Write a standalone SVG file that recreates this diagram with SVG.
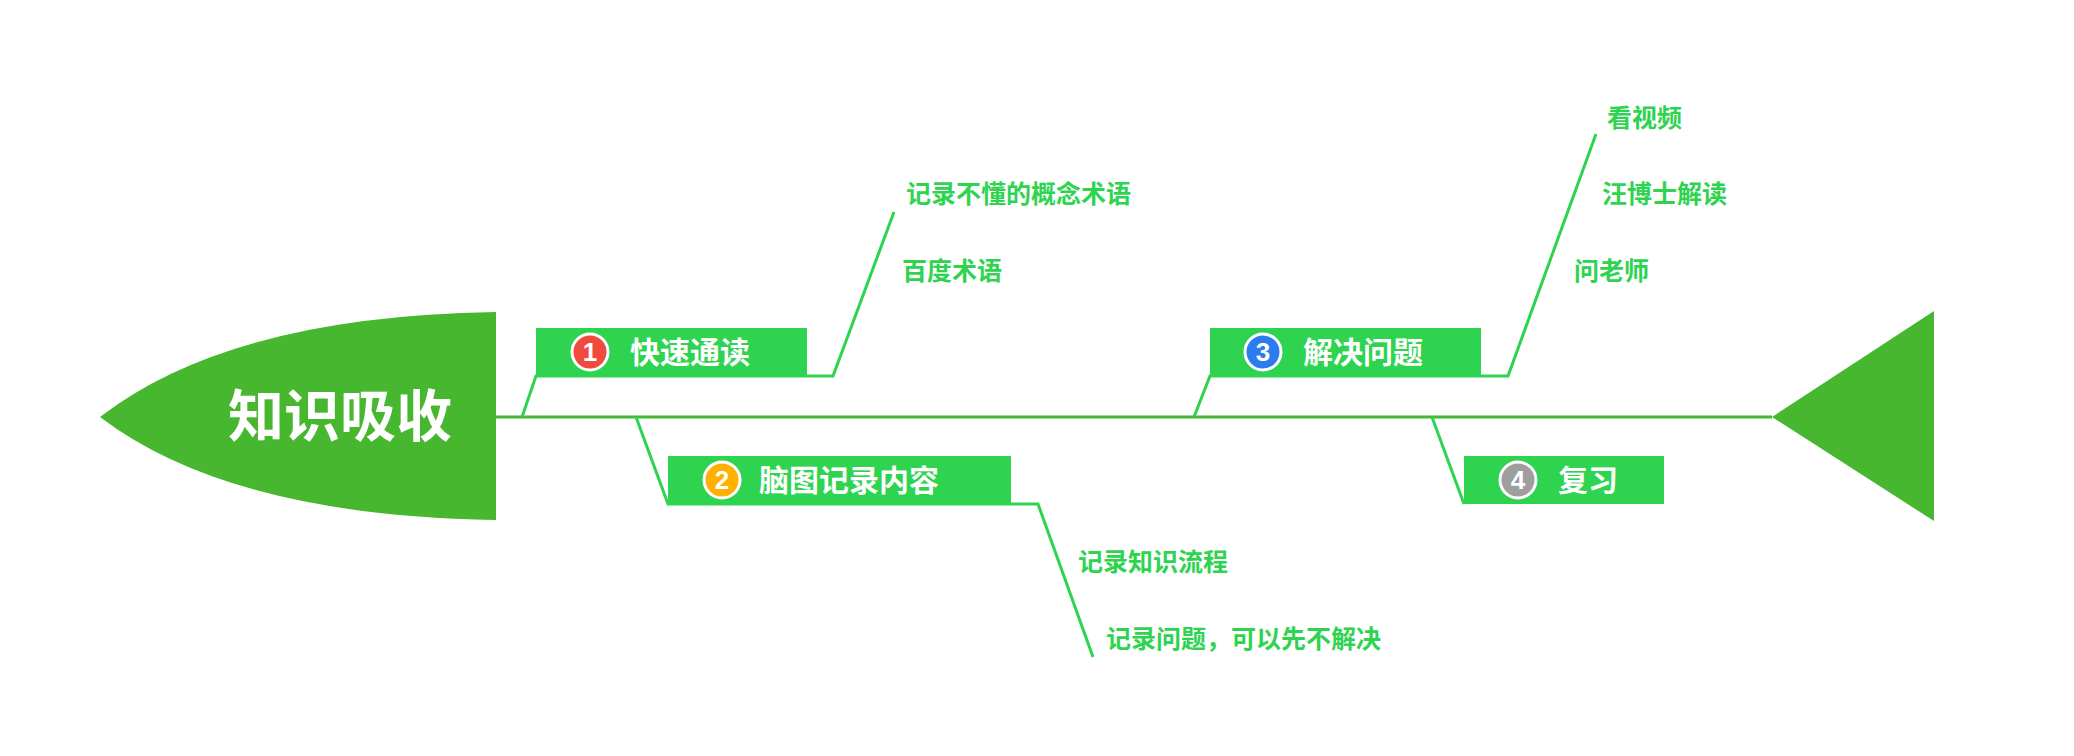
<svg xmlns="http://www.w3.org/2000/svg" width="2074" height="756" viewBox="0 0 2074 756">
<style>
.box{fill:#2ed350}
.ln{fill:none;stroke:#2ed350;stroke-width:3}
.bt{font-family:"Noto Sans CJK SC",sans-serif;font-weight:bold;font-size:30px;fill:#fff}
.lb{font-family:"Noto Sans CJK SC",sans-serif;font-weight:bold;font-size:25px;fill:#2ed350}
.num{font-family:"Liberation Sans",sans-serif;font-weight:bold;font-size:26px;fill:#fff;text-anchor:middle}
.c{stroke:#fff;stroke-width:3}
</style>
<rect width="2074" height="756" fill="#fff"/>
<g id="connectors">
<line x1="496" y1="417" x2="1772" y2="417" stroke="#46b72f" stroke-width="3"/>
<polyline class="ln" points="522,417 536,376 833,376 894,212"/>
<polyline class="ln" points="636,417 668,504 1038,504 1093,657"/>
<polyline class="ln" points="1194,417 1210,376 1508,376 1596,134"/>
<polyline class="ln" points="1432,417 1464,504"/>
</g>
<g id="head">
<path d="M496,312 Q230,316 100,417 Q230,516 496,520 Z" fill="#46b72f"/>
<text x="340" y="436" font-family="Noto Sans CJK SC,sans-serif" font-weight="bold" font-size="56" fill="#fff" text-anchor="middle">知识吸收</text>
</g>
<g id="tail"><polygon points="1772,417 1934,311 1934,521" fill="#46b72f"/></g>
<g id="n1"><rect class="box" x="536" y="328" width="271" height="48"/><circle class="c" cx="590" cy="352" r="18" fill="#f04a3e"/><text class="num" x="590" y="361">1</text><text class="bt" x="630" y="363">快速通读</text></g>
<g id="n2"><rect class="box" x="668" y="456" width="343" height="48"/><circle class="c" cx="722" cy="480" r="18" fill="#ffb000"/><text class="num" x="722" y="489">2</text><text class="bt" x="759" y="491">脑图记录内容</text></g>
<g id="n3"><rect class="box" x="1210" y="328" width="271" height="48"/><circle class="c" cx="1263" cy="352" r="18" fill="#2b7cf0"/><text class="num" x="1263" y="361">3</text><text class="bt" x="1303" y="363">解决问题</text></g>
<g id="n4"><rect class="box" x="1464" y="456" width="200" height="48"/><circle class="c" cx="1518" cy="480" r="18" fill="#9e9e9e"/><text class="num" x="1518" y="489">4</text><text class="bt" x="1558" y="491">复习</text></g>
<g id="l1a"><text class="lb" x="906" y="203">记录不懂的概念术语</text></g>
<g id="l1b"><text class="lb" x="902" y="280">百度术语</text></g>
<g id="l2a"><text class="lb" x="1078" y="571">记录知识流程</text></g>
<g id="l2b"><text class="lb" x="1106" y="648">记录问题，可以先不解决</text></g>
<g id="l3a"><text class="lb" x="1607" y="127">看视频</text></g>
<g id="l3b"><text class="lb" x="1602" y="203">汪博士解读</text></g>
<g id="l3c"><text class="lb" x="1574" y="280">问老师</text></g>
</svg>
